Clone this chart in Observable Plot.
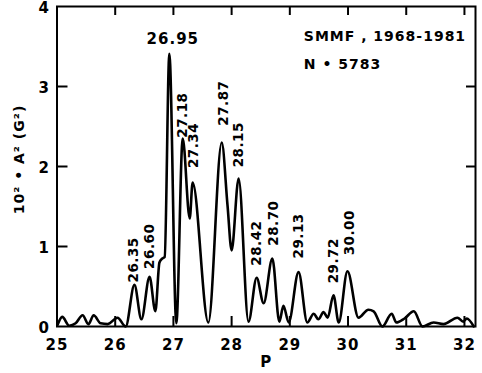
<!DOCTYPE html>
<html>
<head>
<meta charset="utf-8">
<script src="https://cdn.jsdelivr.net/npm/d3@7"></script>
<script src="https://cdn.jsdelivr.net/npm/@observablehq/plot@0.6"></script>
<style>
  html, body { margin: 0; padding: 0; background: #fff; }
  svg text { letter-spacing: 1px; }
  svg g.peak text { letter-spacing: 0.5px; }
</style>
</head>
<body>
<div id="chart"></div>
<script>
// Period P (days) and power 10^2 * A^2 (G^2)
const period = [25.01, 25.09, 25.21, 25.32, 25.44, 25.54, 25.63, 25.75, 25.87, 26.04, 26.18,
  26.33, 26.45, 26.59, 26.69, 26.76, 26.81, 26.85, 26.93, 27.05, 27.16, 27.28, 27.33,
  27.60, 27.83, 27.93, 28.00, 28.12, 28.29, 28.43, 28.55, 28.70, 28.82, 28.89, 28.98,
  29.15, 29.30, 29.41, 29.49, 29.58, 29.65, 29.75, 29.84, 29.99, 30.18, 30.35, 30.44,
  30.59, 30.75, 30.83, 30.97, 31.13, 31.28, 31.47, 31.64, 31.88, 31.98, 32.04, 32.16];
const power = [0.02, 0.12, 0.01, 0.04, 0.14, 0.03, 0.14, 0.04, 0.03, 0.11, 0.0,
  0.52, 0.09, 0.62, 0.19, 0.80, 0.85, 0.87, 3.41, 0.04, 2.35, 1.35, 1.80,
  0.05, 2.30, 1.51, 0.95, 1.85, 0.06, 0.61, 0.29, 0.85, 0.06, 0.26, 0.05,
  0.68, 0.05, 0.16, 0.09, 0.18, 0.11, 0.39, 0.05, 0.69, 0.11, 0.21, 0.19,
  0.0, 0.16, 0.05, 0.10, 0.19, 0.0, 0.05, 0.03, 0.11, 0.06, 0.10, 0.0];

// Peak labels (rotated) and where their text starts
const peakLabels = ["26.35", "26.60", "27.18", "27.34", "27.87", "28.15", "28.42", "28.70", "29.13", "29.72", "30.00"];
const peakLabelP = [26.31, 26.59, 27.155, 27.345, 27.86, 28.12, 28.43, 28.72, 29.15, 29.75, 30.03];
const peakLabelA = [0.55, 0.72, 2.36, 1.98, 2.51, 1.99, 0.76, 1.01, 0.85, 0.54, 0.89];
const topLabel = "26.95";
const topLabelP = 26.99;
const topLabelA = 3.59;

const xTicks = [25, 26, 27, 28, 29, 30, 31, 32];
const yTicks = [0, 1, 2, 3, 4];
const yInnerTicks = [1, 2, 3];
const xDomain = [25, 32.19];
const yDomain = [0, 4];

const title1 = "SMMF , 1968-1981";
const title2 = "N • 5783";
const titleP = 29.24;
const title1A = 3.62;
const title2A = 3.27;

const data = period.map((p, i) => ({p, a: power[i]}));
const labels = peakLabels.map((t, i) => ({t, p: peakLabelP[i], a: peakLabelA[i]}));

const pxX = (xDomain[1] - xDomain[0]) / (475 - 56.5);
const pxY = (yDomain[1] - yDomain[0]) / 320;

const chart = Plot.plot({
  width: 482,
  height: 373,
  marginLeft: 56.5,
  marginRight: 7,
  marginTop: 6,
  marginBottom: 47,
  x: {domain: xDomain},
  y: {domain: yDomain},
  style: {fontFamily: "DejaVu Sans", fontWeight: "bold", fontSize: "14px", background: "white", color: "black"},
  marks: [
    Plot.axisX(xTicks, {tickSize: 0, tickPadding: 13, label: null, fontSize: 15, tickFormat: "d"}),
    Plot.axisY(yTicks, {tickSize: 0, tickPadding: 7, label: null, fontSize: 15, tickFormat: "d", dy: 2}),
    // inward ticks
    Plot.ruleX(xTicks, {x: d => d, y1: 0, y2: 10 * pxY, strokeWidth: 2}),
    Plot.ruleX(xTicks, {x: d => d, y1: yDomain[1], y2: yDomain[1] - 9 * pxY, strokeWidth: 2}),
    Plot.ruleY(yInnerTicks, {y: d => d, x1: xDomain[0], x2: xDomain[0] + 11 * pxX, strokeWidth: 2}),
    Plot.ruleY(yInnerTicks, {y: d => d, x1: xDomain[1], x2: xDomain[1] - 9 * pxX, strokeWidth: 2}),
    Plot.line(data, {x: "p", y: "a", curve: "monotone-x", stroke: "black", strokeWidth: 2.6}),
    Plot.frame({stroke: "black", strokeWidth: 2}),
    Plot.text(labels, {x: "p", y: "a", text: "t", rotate: -90, textAnchor: "start", lineAnchor: "middle", fontSize: 13.5, className: "peak"}),
    Plot.text([topLabel], {x: () => topLabelP, y: () => topLabelA, text: d => d, lineAnchor: "middle", fontSize: 15}),
    Plot.text([title1], {x: () => titleP, y: () => title1A, text: d => d, textAnchor: "start", lineAnchor: "middle", fontSize: 14}),
    Plot.text([title2], {x: () => titleP, y: () => title2A, text: d => d, textAnchor: "start", lineAnchor: "middle", fontSize: 14}),
    Plot.text(["10² • A² (G²)"], {frameAnchor: "left", text: d => d, rotate: -90, textAnchor: "middle", dx: -37, dy: -7, lineAnchor: "middle", fontSize: 14}),
    Plot.text(["P"], {frameAnchor: "bottom", text: d => d, dy: 36, lineAnchor: "middle", fontSize: 15})
  ]
});
document.getElementById("chart").appendChild(chart);
</script>
</body>
</html>
